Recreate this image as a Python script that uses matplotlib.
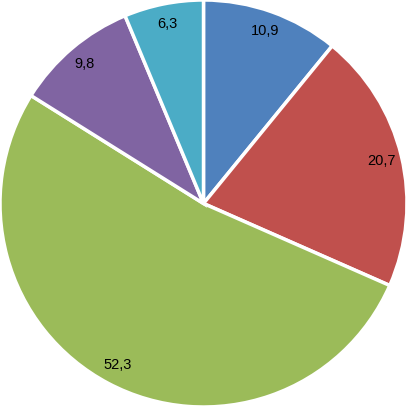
import matplotlib
matplotlib.use('Agg')
import matplotlib.pyplot as plt

values = [10.9, 20.7, 52.3, 9.8, 6.3]
labels = ['10,9', '20,7', '52,3', '9,8', '6,3']
colors = ['#4F81BD', '#C0504D', '#9BBB59', '#8064A2', '#4BACC6']

plt.rcParams['font.family'] = ['Liberation Sans', 'DejaVu Sans']

fig = plt.figure(figsize=(4.07, 4.07), dpi=100)
ax = fig.add_axes([0, 0, 1, 1])

wedges, texts, autotexts = ax.pie(
    values, colors=colors, startangle=90, counterclock=False,
    autopct='%1.1f', pctdistance=0.9, radius=1.0,
    wedgeprops=dict(edgecolor='white', linewidth=2.5))

for t, lab in zip(autotexts, labels):
    t.set_text(lab)
    t.set_fontsize(10.5)
    t.set_color('black')

ax.set_xlim(-1.0, 1.0)
ax.set_ylim(-1.0, 1.0)
ax.set_aspect('equal')
ax.axis('off')

fig.savefig('out.png', dpi=100)
